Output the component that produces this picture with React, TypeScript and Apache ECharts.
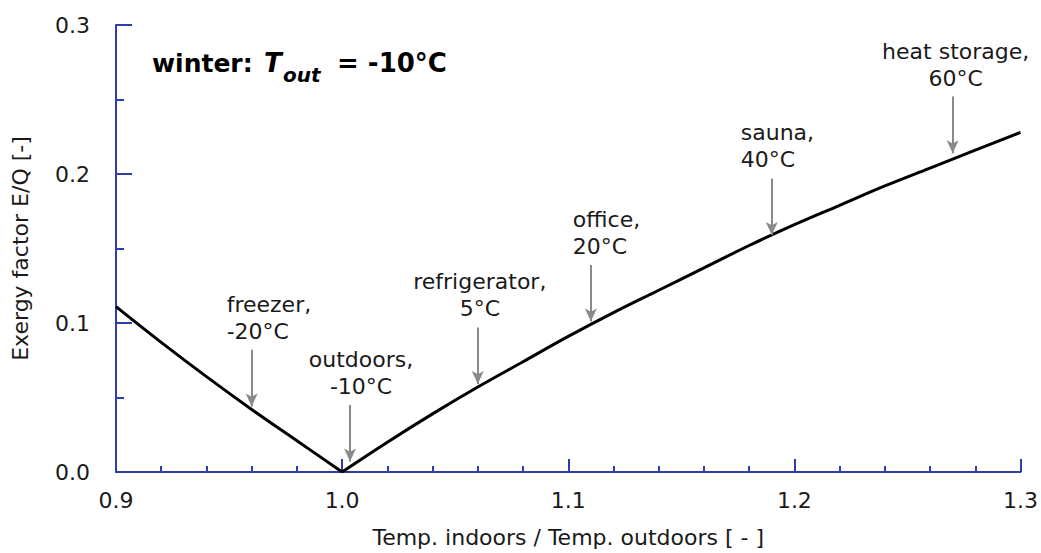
import React, { useEffect, useRef } from "react";
import * as echarts from "echarts";

// Curve: temperature ratio (indoors / outdoors) vs exergy factor E/Q
const ratioX = [0.90, 0.92, 0.94, 0.96, 0.98, 1.00, 1.02, 1.04, 1.06, 1.08, 1.10, 1.12, 1.14, 1.16, 1.18, 1.20, 1.22, 1.24, 1.26, 1.28, 1.30];
const exergyY = [0.111, 0.087, 0.064, 0.042, 0.021, 0.000, 0.020, 0.039, 0.057, 0.074, 0.091, 0.107, 0.122, 0.137, 0.152, 0.166, 0.179, 0.192, 0.204, 0.216, 0.228];

// Annotations (arrow pointing down to curve)
const annotationNames = ["freezer,\n-20°C", "outdoors,\n-10°C", "refrigerator,\n5°C", "office,\n20°C", "sauna,\n40°C", "heat storage,\n60°C"];
const annotationX = [0.96, 1.0035, 1.06, 1.11, 1.19, 1.27];
const annotationTipY = [0.044, 0.007, 0.059, 0.101, 0.159, 0.214];
const arrowLength = 0.038;

// Axis ticks
const xMin = 0.9, xMax = 1.3, xStep = 0.1;
const yMin = 0, yMax = 0.3, yStep = 0.1;

const AXIS_BLUE = "#2f3ea6";
const TEXT = "#1a1a1a";
const FONT = "DejaVu Sans";

// layout tweaks for label alignment (not data)
const labelLayout: Array<{ align: string; dx: number }> = [
  { align: "left", dx: -25 },
  { align: "center", dx: 11 },
  { align: "center", dx: 2 },
  { align: "left", dx: -18 },
  { align: "left", dx: -31 },
  { align: "center", dx: 3 },
];

export default function App() {
  const ref = useRef<HTMLDivElement>(null);
  useEffect(() => {
    if (!ref.current) return;
    const chart = echarts.init(ref.current, null, { renderer: "svg" });
    const curve = ratioX.map((x, i) => [x, exergyY[i]]);
    const vertex = exergyY.indexOf(Math.min(...exergyY));
    const leftBranch = curve.slice(0, vertex + 1);
    const rightBranch = curve.slice(vertex);
    const labelPts = annotationX.map((x, i) => ({
      name: annotationNames[i],
      value: [x, annotationTipY[i] + arrowLength],
      label: {
        align: labelLayout[i].align,
        offset: [labelLayout[i].dx, 0],
      },
    }));
    const arrows = annotationX.map((x, i) => [
      { coord: [x, annotationTipY[i] + arrowLength] },
      { coord: [x, annotationTipY[i]] },
    ]);
    const curveStyle = { color: "#000000", width: 3 };
    chart.setOption({
      animation: false,
      backgroundColor: "#ffffff",
      grid: { left: 116, right: 19, top: 25, bottom: 75, containLabel: false },
      xAxis: {
        type: "value",
        min: xMin,
        max: xMax,
        interval: xStep,
        name: "Temp. indoors / Temp. outdoors [ - ]",
        nameLocation: "middle",
        nameGap: 54,
        nameTextStyle: { fontFamily: FONT, fontSize: 22, color: TEXT },
        axisLine: { show: true, onZero: false, lineStyle: { color: AXIS_BLUE, width: 2 } },
        axisTick: { show: true, inside: true, length: 13, lineStyle: { color: AXIS_BLUE, width: 2 } },
        minorTick: { show: true, splitNumber: 5, length: 6, lineStyle: { color: AXIS_BLUE, width: 2 } },
        splitLine: { show: false },
        axisLabel: {
          fontFamily: FONT,
          fontSize: 22,
          color: TEXT,
          margin: 17,
          formatter: (v: number) => v.toFixed(1),
        },
      },
      yAxis: {
        type: "value",
        min: yMin,
        max: yMax,
        interval: yStep,
        name: "Exergy factor E/Q [-]",
        nameLocation: "middle",
        nameGap: 85,
        nameRotate: 90,
        nameTextStyle: { fontFamily: FONT, fontSize: 22, color: TEXT },
        axisLine: { show: true, lineStyle: { color: AXIS_BLUE, width: 2 } },
        axisTick: { show: true, inside: true, length: 16, lineStyle: { color: AXIS_BLUE, width: 2 } },
        minorTick: { show: true, splitNumber: 2, length: 8, lineStyle: { color: AXIS_BLUE, width: 2 } },
        splitLine: { show: false },
        axisLabel: {
          fontFamily: FONT,
          fontSize: 22,
          color: TEXT,
          margin: 26,
          formatter: (v: number) => v.toFixed(1),
        },
      },
      graphic: [
        { type: "text", left: 152, top: 51, style: { text: "winter:", fontFamily: FONT, fontSize: 25, fontWeight: "bold", fill: "#000" } },
        { type: "text", left: 264, top: 50, style: { text: "T", fontFamily: FONT, fontSize: 26, fontWeight: "bold", fontStyle: "italic", fill: "#000" } },
        { type: "text", left: 283, top: 65, style: { text: "out", fontFamily: FONT, fontSize: 20, fontWeight: "bold", fontStyle: "italic", fill: "#000" } },
        { type: "text", left: 337, top: 50, style: { text: "= -10°C", fontFamily: FONT, fontSize: 26, fontWeight: "bold", fill: "#000" } },
      ],
      series: [
        {
          type: "line",
          data: leftBranch,
          showSymbol: false,
          smooth: 0.4,
          lineStyle: curveStyle,
          silent: true,
          z: 3,
        },
        {
          type: "line",
          data: rightBranch,
          showSymbol: false,
          smooth: 0.4,
          lineStyle: curveStyle,
          silent: true,
          markLine: {
            silent: true,
            symbol: ["none", "arrow"],
            symbolSize: [9, 13],
            label: { show: false },
            lineStyle: { color: "#8a8a8a", width: 2, type: "solid" },
            data: arrows,
          },
          z: 3,
        },
        {
          type: "scatter",
          data: labelPts,
          symbolSize: 0,
          silent: true,
          itemStyle: { opacity: 1 },
          label: {
            show: true,
            position: "top",
            distance: 5,
            formatter: (p: any) => p.name,
            fontFamily: FONT,
            fontSize: 22,
            lineHeight: 27,
            color: TEXT,
          },
        },
      ],
    });
    return () => chart.dispose();
  }, []);
  return (
    <div
      ref={ref}
      style={{ position: "absolute", left: 0, top: 0, width: 1041, height: 553, background: "#fff" }}
    />
  );
}
